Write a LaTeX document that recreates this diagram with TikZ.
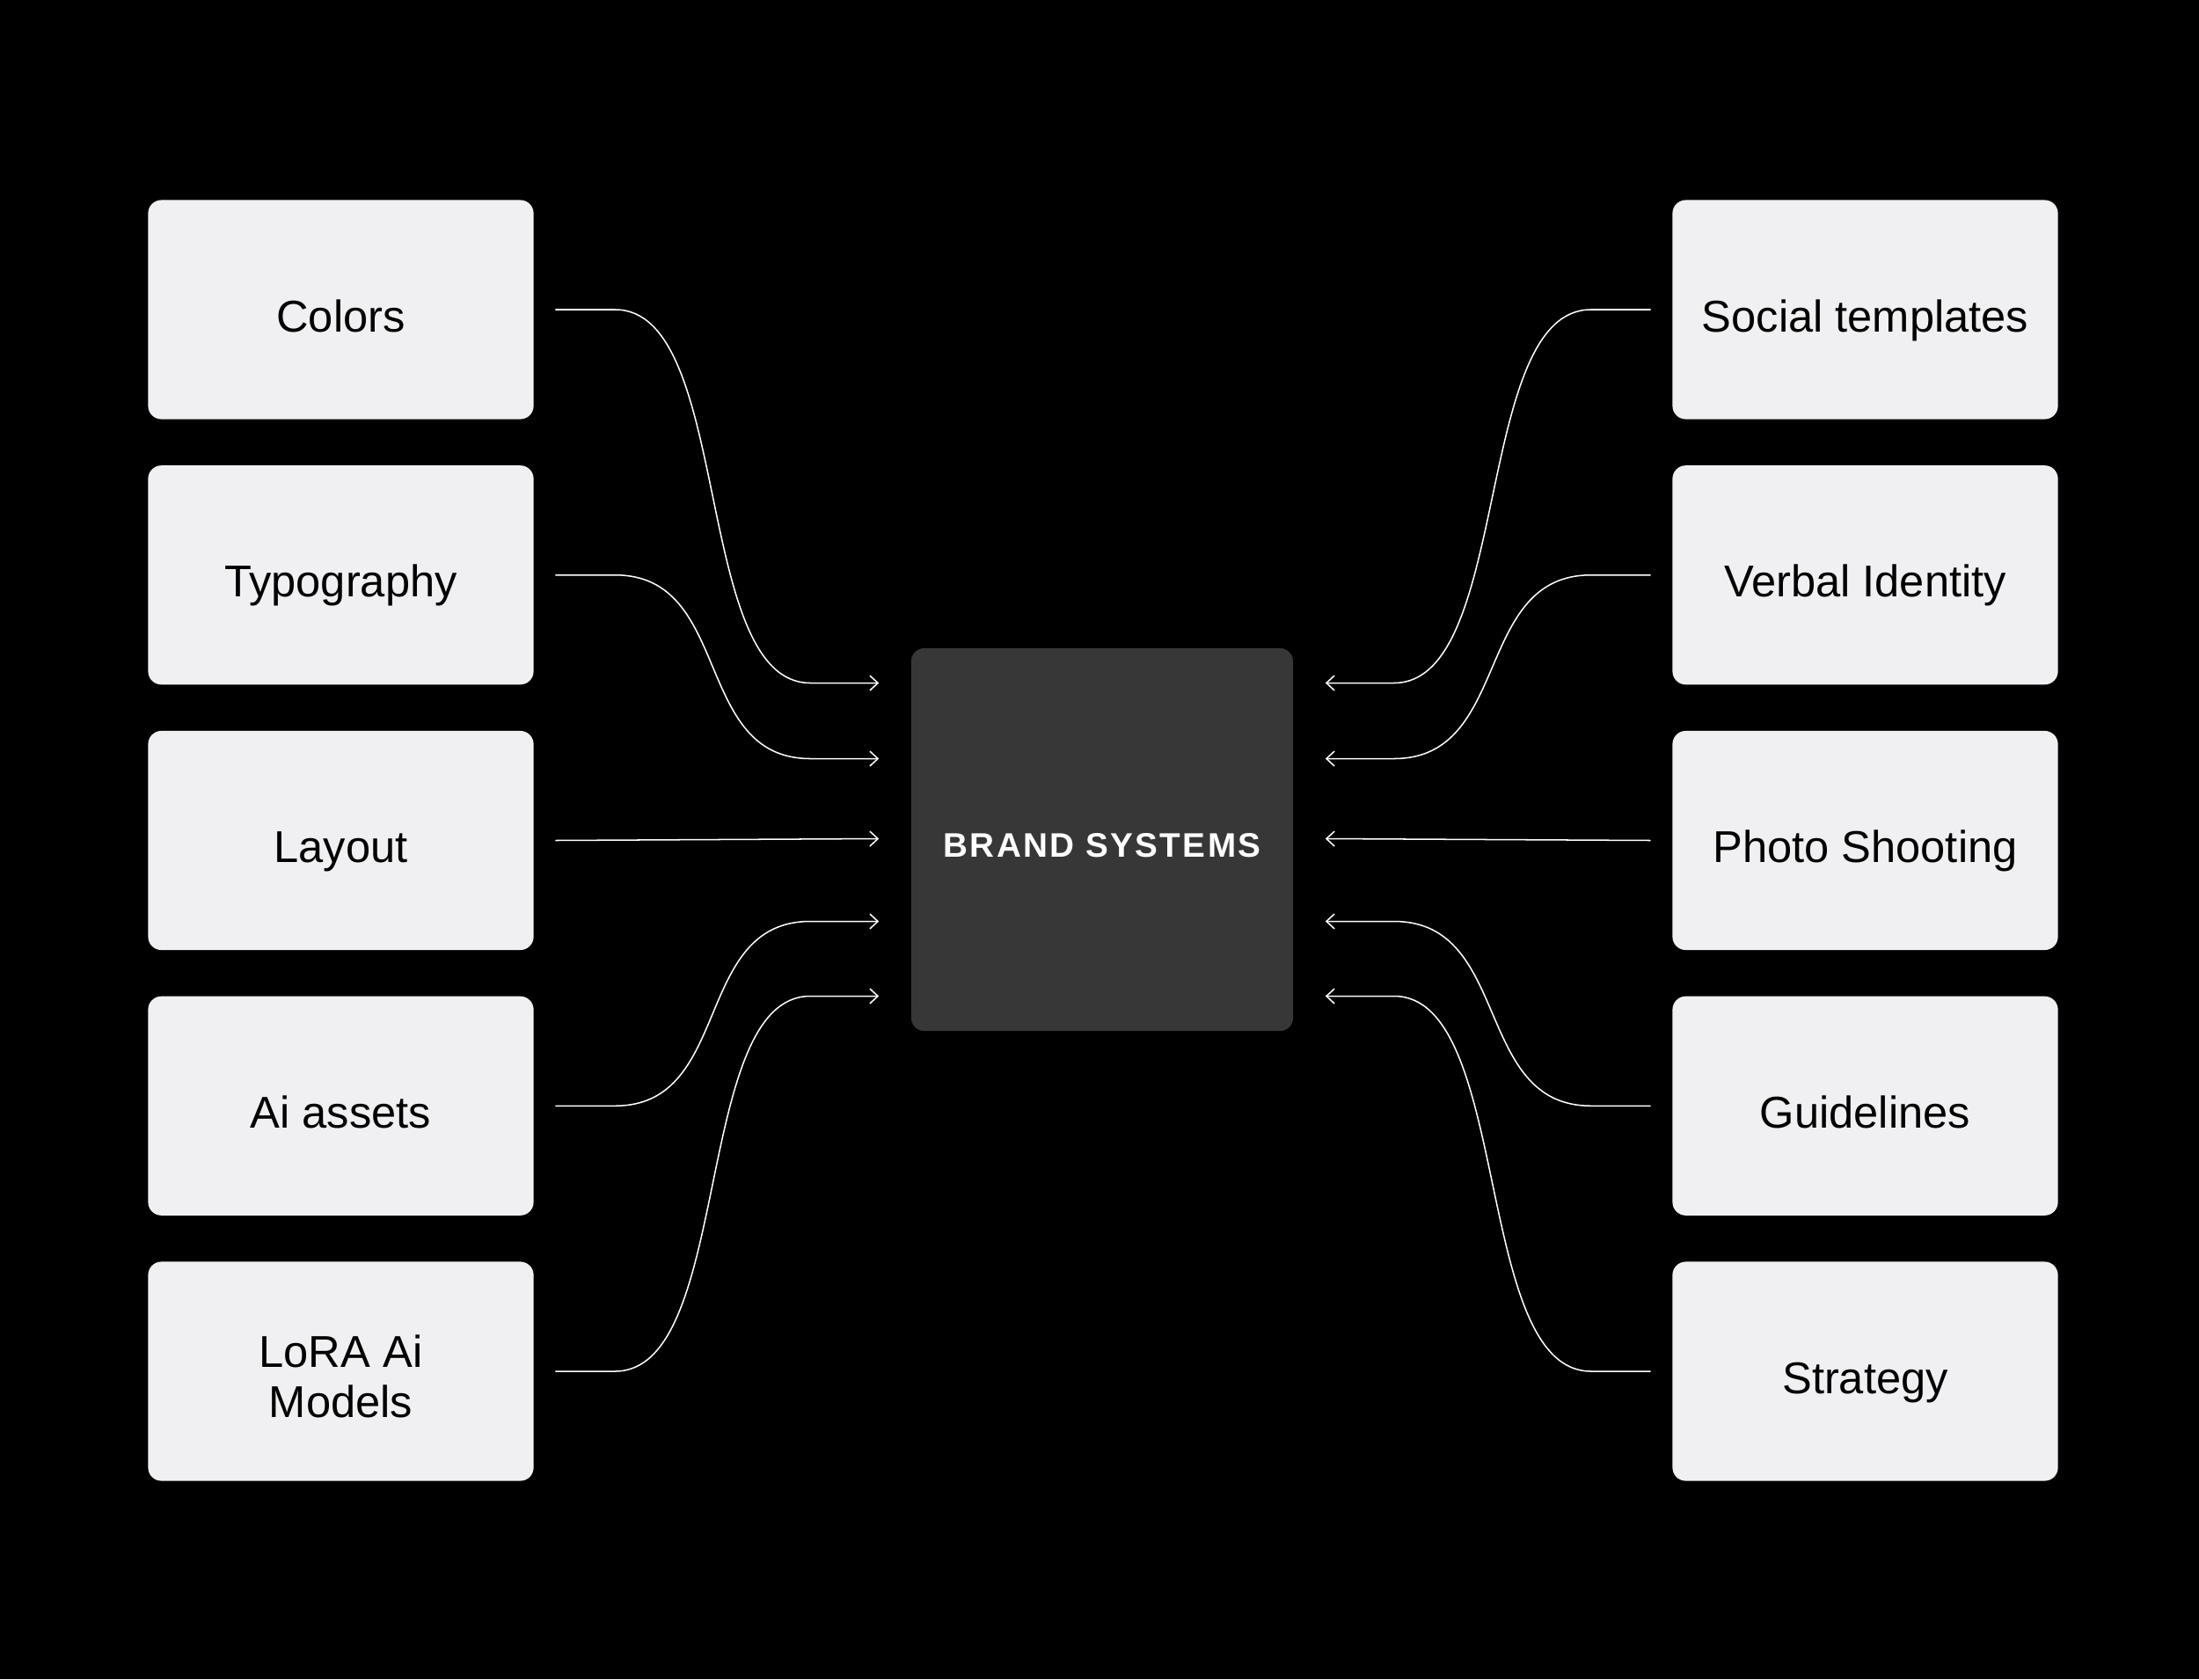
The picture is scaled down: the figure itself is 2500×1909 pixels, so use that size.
\documentclass[tikz,border=0pt]{standalone}
\usepackage{fontspec}
\setmainfont{Liberation Sans}
\usetikzlibrary{calc}
\usetikzlibrary{arrows.meta}
\usetikzlibrary{positioning}
\definecolor{BoxGrey}{HTML}{F0F0F2}
\definecolor{CoreGrey}{HTML}{373737}
\tikzset{
  item/.style={rectangle, rounded corners=4.3pt, fill=BoxGrey, text=black,
    minimum width=4.38cm, minimum height=2.49cm, align=center,
    text depth=0pt, font=\fontsize{14.4}{16.4}\selectfont},
  core/.style={rectangle, rounded corners=4.3pt, fill=CoreGrey, text=white,
    minimum width=4.34cm, minimum height=4.35cm,
    text height=11.5pt, text depth=0pt,
    font=\fontsize{11}{13}\selectfont\bfseries\addfontfeatures{LetterSpace=6}},
  link/.style={white, line width=0.43pt, -{Straight Barb[length=2.6pt,width=4.8pt]}}
}

\begin{document}
\begin{tikzpicture}[x=0.01cm, y=-0.01cm]
  \fill[black] (0,0) rectangle (2500,1909);

  \node[core] (brand) at (1253,954.5) {BRAND SYSTEMS};

  % inputs on the left
  \foreach \name/\txt/\th [count=\i from 0] in {colors/Colors/14.3,
    typo/Typography/14.3, layout/Layout/14.3, ai/Ai assets/14.3,
    lora/{LoRA Ai\\Models}/30}{%
    \node[item, text height=\th pt] (\name) at (387.5,352+301.75*\i) {\txt};
  }
  % outputs on the right
  \foreach \name/\txt [count=\i from 0] in {social/Social templates,
    verbal/Verbal Identity, photo/Photo Shooting, guide/Guidelines,
    strategy/Strategy}{%
    \node[item, text height=14.3pt] (\name) at (2120.5,352+301.75*\i) {\txt};
  }

  \foreach \name/\dy in {colors/-178, typo/-92, ai/93, lora/178}{%
    \coordinate (tip) at ($(brand.west)+(-36,\dy)$);
    \draw[link] ($(\name.east)+(24,0)$) -- ++(68,0)
      .. controls +(134,0) and +(-134,0) .. ($(tip)+(-78,0)$) -- (tip);
  }
  \draw[link] ($(layout.east)+(24,0)$) -- ($(brand.west)+(-36,-1)$);

  \foreach \name/\dy in {social/-178, verbal/-92, guide/93, strategy/178}{%
    \coordinate (tip) at ($(brand.east)+(36,\dy)$);
    \draw[link] ($(\name.west)+(-24,0)$) -- ++(-68,0)
      .. controls +(-134,0) and +(134,0) .. ($(tip)+(78,0)$) -- (tip);
  }
  \draw[link] ($(photo.west)+(-24,0)$) -- ($(brand.east)+(36,-1)$);
\end{tikzpicture}
\end{document}
